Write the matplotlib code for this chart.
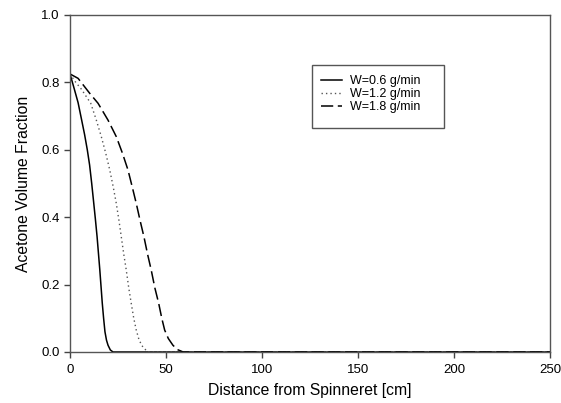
import numpy as np
import matplotlib
matplotlib.use('Agg')
import matplotlib.pyplot as plt
from matplotlib.patches import Rectangle

plt.rcParams['font.family'] = ['Liberation Sans', 'DejaVu Sans']

# Datos
x_06 = [0, 2, 4.2, 6, 7.6, 9, 10.2, 11.3, 12.3, 13.2, 14.1, 15.5, 16.8, 17.5,
        18.2, 19, 19.8, 21, 22.4, 250]
y_06 = [0.825, 0.785, 0.74, 0.69, 0.645, 0.60, 0.555, 0.50, 0.445, 0.395,
        0.342, 0.245, 0.145, 0.10, 0.06, 0.035, 0.02, 0.006, 0.0, 0.0]

x_12 = [0, 3, 5.9, 10.8, 13.6, 16.3, 18.6, 20.7, 22.5, 24.1, 25.5, 26.7, 28,
        29.3, 30.6, 31.9, 33.2, 34.5, 36, 38, 40.6, 250]
y_12 = [0.825, 0.80, 0.78, 0.738, 0.69, 0.639, 0.59, 0.54, 0.49, 0.441, 0.39,
        0.342, 0.29, 0.243, 0.19, 0.144, 0.10, 0.065, 0.035, 0.014, 0.0, 0.0]

x_18 = [0, 4.2, 10.2, 14.6, 19.8, 24.1, 27.3, 30.2, 32.4, 34.5, 36.5, 38.5,
        40.4, 42.3, 44.2, 46.2, 47.8, 49.3, 51.2, 53.6, 56, 58.9, 250]
y_18 = [0.825, 0.812, 0.768, 0.738, 0.688, 0.639, 0.59, 0.54, 0.49, 0.441,
        0.39, 0.342, 0.29, 0.243, 0.19, 0.144, 0.10, 0.065, 0.04, 0.02, 0.007,
        0.0, 0.0]

etiquetas = ['W=0.6 g/min', 'W=1.2 g/min', 'W=1.8 g/min']

fig = plt.figure(figsize=(5.61, 4.03), dpi=100)
ax = fig.add_axes([0.1248, 0.1266, 0.8556, 0.8362])

ax.plot(x_06, y_06, color='black', lw=1.1, label=etiquetas[0])
ax.plot(x_12, y_12, color='#555555', lw=1.0, linestyle=(0, (1, 2.2)), label=etiquetas[1])
ax.plot(x_18, y_18, color='black', lw=1.1, linestyle=(0, (8, 3)), label=etiquetas[2])

ax.set_xlim(0, 250)
ax.set_ylim(0, 1.0)
ax.set_xticks([0, 50, 100, 150, 200, 250])
ax.set_yticks([0.0, 0.2, 0.4, 0.6, 0.8, 1.0])
ax.set_yticklabels(['0.0', '0.2', '0.4', '0.6', '0.8', '1.0'])
ax.tick_params(direction='out', length=4, width=1, colors='#444444',
               labelcolor='black', labelsize=9.5)
ax.tick_params(axis='x', pad=5)
for s in ax.spines.values():
    s.set_color('#555555')
    s.set_linewidth(1.0)

ax.set_xlabel('Distance from Spinneret [cm]', fontsize=11.3, labelpad=5)
ax.set_ylabel('Acetone Volume Fraction', fontsize=11.3, labelpad=7)

# Marco de la leyenda
ax.add_patch(Rectangle((0.504, 0.665), 0.275, 0.187, transform=ax.transAxes,
                       facecolor='white', edgecolor='#555555', lw=1.0, zorder=4))
leg = ax.legend(loc='upper left', bbox_to_anchor=(0.523, 0.822), fontsize=9,
                frameon=False, handlelength=1.7, handletextpad=0.6,
                borderpad=0, borderaxespad=0, labelspacing=0.08)
leg.set_zorder(5)

plt.savefig('out.png', dpi=100)
